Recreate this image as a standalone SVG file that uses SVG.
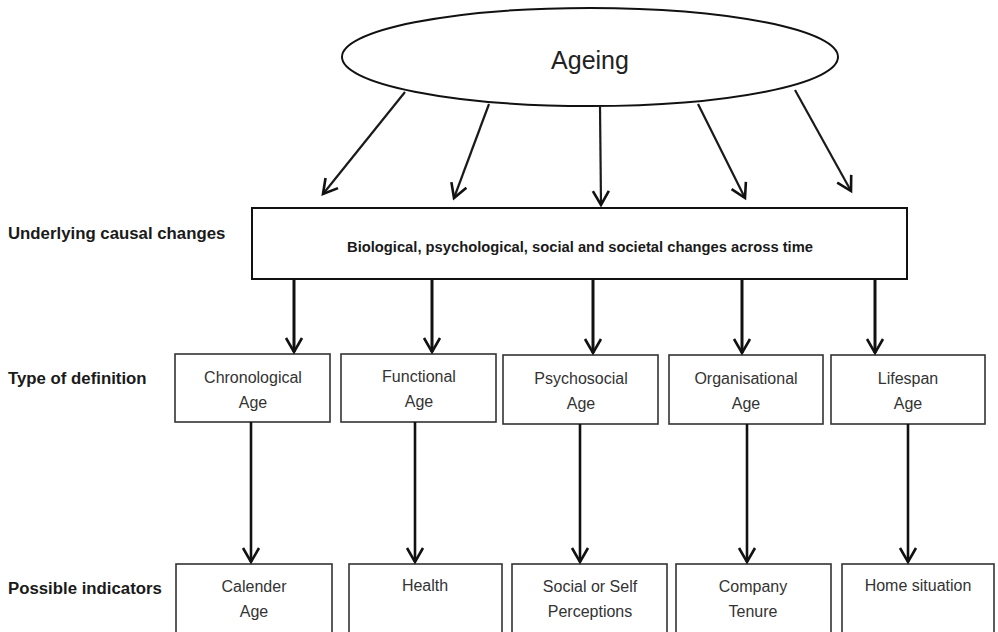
<svg xmlns="http://www.w3.org/2000/svg" width="998" height="632" viewBox="0 0 998 632">
<defs>
<marker id="v" markerUnits="userSpaceOnUse" viewBox="-16 -10 20 20" refX="0" refY="0" markerWidth="20" markerHeight="20" orient="auto">
<path d="M -14,-8 L 0,0 L -14,8" fill="none" stroke="#111" stroke-width="2.6" stroke-linejoin="miter"/>
</marker>
</defs>
<style>
.box{fill:#fff;stroke:#333;stroke-width:1.6}
.big{fill:#fff;stroke:#111;stroke-width:2}
.t{font-family:"Liberation Sans",Arial,sans-serif;font-size:16px;fill:#333;text-anchor:middle}
.lab{font-family:"Liberation Sans",Arial,sans-serif;font-size:16.8px;font-weight:bold;fill:#1a1a1a}
.c1{stroke:#1a1a1a;stroke-width:2.2;fill:none;marker-end:url(#v)}
.c2{stroke:#111;stroke-width:3;fill:none;marker-end:url(#v)}
.c3{stroke:#111;stroke-width:2.6;fill:none;marker-end:url(#v)}
</style>
<rect width="998" height="632" fill="#fff"/>
<g id="labels">
<text class="lab" x="8" y="239">Underlying causal changes</text>
<text class="lab" x="8" y="384">Type of definition</text>
<text class="lab" x="8" y="594">Possible indicators</text>
</g>
<g id="ageing">
<ellipse cx="590" cy="57" rx="248" ry="49" fill="#fff" stroke="#111" stroke-width="2"/>
<text x="590" y="69" style="font-family:'Liberation Sans',Arial,sans-serif;font-size:25px;fill:#222;text-anchor:middle">Ageing</text>
</g>
<g id="changes">
<rect class="big" x="252" y="208" width="655" height="71"/>
<text x="580" y="252" textLength="466" lengthAdjust="spacingAndGlyphs" style="font-family:'Liberation Sans',Arial,sans-serif;font-size:14.5px;font-weight:bold;fill:#1a1a1a;text-anchor:middle">Biological, psychological, social and societal changes across time</text>
</g>
<g id="chronological">
<rect class="box" x="175" y="354" width="155" height="68"/>
<text class="t" x="253" y="383">Chronological</text>
<text class="t" x="253" y="408">Age</text>
</g>
<g id="functional">
<rect class="box" x="341" y="354" width="155" height="68"/>
<text class="t" x="419" y="382">Functional</text>
<text class="t" x="419" y="407">Age</text>
</g>
<g id="psychosocial">
<rect class="box" x="503" y="355" width="155" height="69"/>
<text class="t" x="581" y="384">Psychosocial</text>
<text class="t" x="581" y="409">Age</text>
</g>
<g id="organisational">
<rect class="box" x="669" y="355" width="154" height="69"/>
<text class="t" x="746" y="384">Organisational</text>
<text class="t" x="746" y="409">Age</text>
</g>
<g id="lifespan">
<rect class="box" x="831" y="355" width="154" height="69"/>
<text class="t" x="908" y="384">Lifespan</text>
<text class="t" x="908" y="409">Age</text>
</g>
<g id="calender">
<rect class="box" x="176" y="564" width="156" height="72"/>
<text class="t" x="254" y="592">Calender</text>
<text class="t" x="254" y="617">Age</text>
</g>
<g id="health">
<rect class="box" x="349" y="564" width="153" height="72"/>
<text class="t" x="425" y="591">Health</text>
</g>
<g id="perceptions">
<rect class="box" x="512" y="564" width="155" height="72"/>
<text class="t" x="590" y="592">Social or Self</text>
<text class="t" x="590" y="617">Perceptions</text>
</g>
<g id="tenure">
<rect class="box" x="676" y="564" width="155" height="72"/>
<text class="t" x="753" y="592">Company</text>
<text class="t" x="753" y="617">Tenure</text>
</g>
<g id="home">
<rect class="box" x="842" y="564" width="152" height="72"/>
<text class="t" x="918" y="591">Home situation</text>
</g>
<g id="connectors">
<line class="c1" x1="405" y1="92" x2="323" y2="194"/>
<line class="c1" x1="489" y1="104" x2="454" y2="198"/>
<line class="c1" x1="600" y1="106" x2="601" y2="205"/>
<line class="c1" x1="698" y1="104" x2="745" y2="198"/>
<line class="c1" x1="795" y1="90" x2="851" y2="191"/>
<line class="c2" x1="294" y1="279" x2="294" y2="352"/>
<line class="c2" x1="432" y1="279" x2="432" y2="352"/>
<line class="c2" x1="593" y1="279" x2="593" y2="353"/>
<line class="c2" x1="742" y1="279" x2="742" y2="353"/>
<line class="c2" x1="875" y1="279" x2="875" y2="353"/>
<line class="c3" x1="251" y1="422" x2="251" y2="562"/>
<line class="c3" x1="415" y1="422" x2="415" y2="562"/>
<line class="c3" x1="580" y1="424" x2="580" y2="562"/>
<line class="c3" x1="747" y1="424" x2="747" y2="562"/>
<line class="c3" x1="908" y1="424" x2="908" y2="562"/>
</g>
</svg>
